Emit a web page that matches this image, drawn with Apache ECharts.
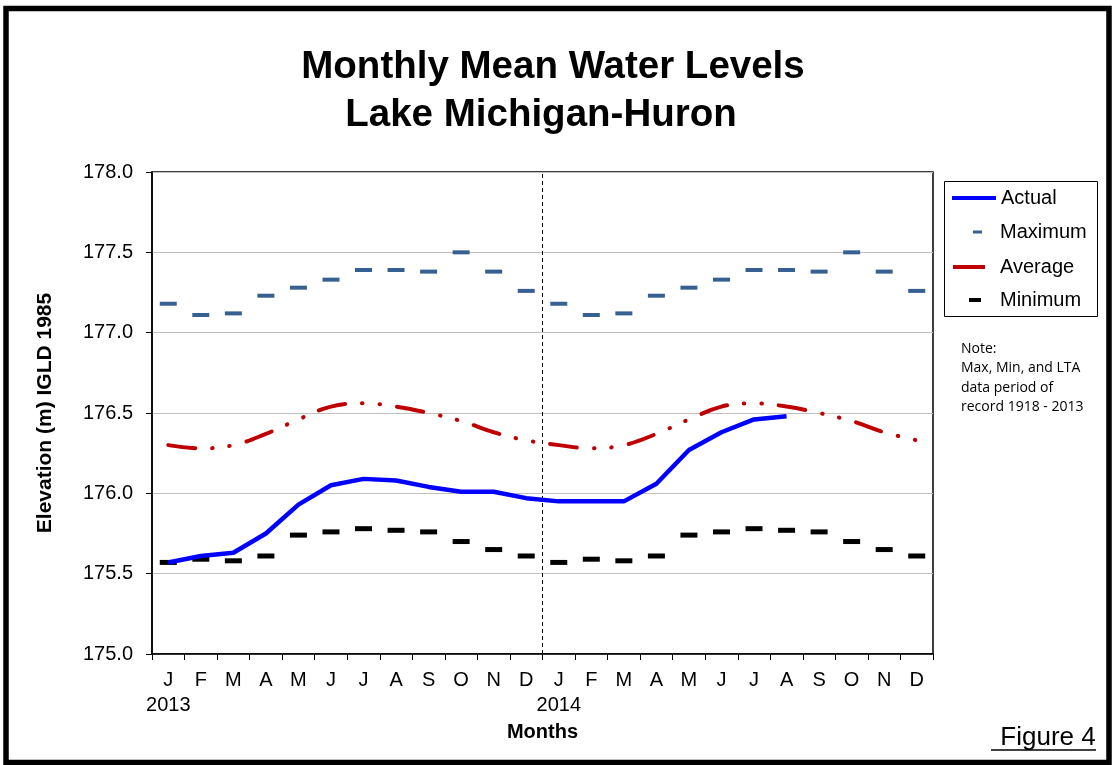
<!DOCTYPE html>
<html>
<head>
<meta charset="utf-8">
<script src="https://cdn.jsdelivr.net/npm/echarts@6/dist/echarts.min.js"></script>
<style>html,body{margin:0;padding:0;background:#fff;}#chart{width:1112px;height:765px;}</style>
</head>
<body>
<div id="chart"></div>
<script>
var months = ['J','F','M','A','M','J','J','A','S','O','N','D','J','F','M','A','M','J','J','A','S','O','N','D'];
var years = ['2013','','','','','','','','','','','','2014','','','','','','','','','','',''];
var yTicks = [175.0, 175.5, 176.0, 176.5, 177.0, 177.5, 178.0];
var yearBoundary = [12];
var actual = [175.57,175.61,175.63,175.75,175.93,176.05,176.09,176.08,176.04,176.01,176.01,175.97,
              175.95,175.95,175.95,176.06,176.27,176.38,176.46,176.48,null,null,null,null];
var maximum = [177.18,177.11,177.12,177.23,177.28,177.33,177.39,177.39,177.38,177.50,177.38,177.26,
               177.18,177.11,177.12,177.23,177.28,177.33,177.39,177.39,177.38,177.50,177.38,177.26];
var average = [176.30,176.28,176.30,176.37,176.46,176.54,176.56,176.54,176.50,176.45,176.38,176.33,
               176.30,176.28,176.30,176.37,176.46,176.54,176.56,176.54,176.50,176.45,176.38,176.33];
var minimum = [175.57,175.59,175.58,175.61,175.74,175.76,175.78,175.77,175.76,175.70,175.65,175.61,
               175.57,175.59,175.58,175.61,175.74,175.76,175.78,175.77,175.76,175.70,175.65,175.61];

var FONT = 'Liberation Sans, Arial, sans-serif';
var chart = echarts.init(document.getElementById('chart'), null, {renderer: 'canvas'});

function legendItem(name, top, left, w, h, padLeft) {
  return {
    data: [name], top: top, left: left, orient: 'horizontal',
    icon: 'rect', itemWidth: w, itemHeight: h, selectedMode: false,
    padding: 0,
    textStyle: {fontFamily: FONT, fontSize: 20, color: '#000', padding: [0, 0, 0, padLeft]}
  };
}

var option = {
  animation: false,
  backgroundColor: '#fff',
  title: [
    {text: 'Monthly Mean Water Levels', left: 548, top: 43, textAlign: 'center',
     textStyle: {fontFamily: FONT, fontSize: 38.5, fontWeight: 'bold', color: '#000'}},
    {text: 'Lake Michigan-Huron', left: 536, top: 91, textAlign: 'center',
     textStyle: {fontFamily: FONT, fontSize: 38.5, fontWeight: 'bold', color: '#000'}},
    {text: 'Note:\nMax, Min, and LTA\ndata period of\nrecord 1918 - 2013', left: 956, top: 334,
     textStyle: {fontFamily: 'Open Sans, sans-serif', fontSize: 14, fontWeight: 'normal', color: '#000', lineHeight: 19.5}},
    {text: 'Figure 4', left: 1043, top: 720, textAlign: 'center',
     textStyle: {fontFamily: FONT, fontSize: 26, fontWeight: 'normal', color: '#000'}}
  ],
  legend: [
    legendItem('Actual', 188, 952, 44, 4, 0),
    legendItem('Maximum', 222, 973, 9, 3, 13),
    legendItem('Average', 257, 953, 32, 4, 10),
    legendItem('Minimum', 290, 969, 12, 4, 14)
  ],
  grid: {left: 152, top: 172, width: 781, height: 482, show: true, borderColor: '#000', borderWidth: 1.5, backgroundColor: 'transparent'},
  xAxis: [{
    type: 'category', data: months, boundaryGap: true,
    name: 'Months', nameLocation: 'middle', nameGap: 68,
    nameTextStyle: {fontFamily: FONT, fontSize: 20, fontWeight: 'bold', color: '#000'},
    axisLine: {lineStyle: {color: '#000', width: 1.5}},
    axisTick: {show: true, inside: false, length: 6, lineStyle: {color: '#000', width: 1}},
    axisLabel: {
      fontFamily: FONT, fontSize: 20, color: '#000', margin: 14, lineHeight: 25, interval: 0,
      formatter: function (v, i) { return years[i] ? v + '\n' + years[i] : v; }
    },
    splitLine: {show: false}
  }, {
    type: 'value', min: 0, max: months.length, show: false, position: 'top'
  }],
  yAxis: {
    type: 'value', min: yTicks[0], max: yTicks[yTicks.length - 1], interval: 0.5,
    name: 'Elevation (m) IGLD 1985', nameLocation: 'middle', nameGap: 96, nameRotate: 90,
    nameTextStyle: {fontFamily: FONT, fontSize: 21, fontWeight: 'bold', color: '#000'},
    axisLine: {show: true, lineStyle: {color: '#000', width: 1.5}},
    axisTick: {show: true, inside: false, length: 6, lineStyle: {color: '#000'}},
    axisLabel: {fontFamily: FONT, fontSize: 20, color: '#000', margin: 19,
      formatter: function (v) { return v.toFixed(1); }},
    splitLine: {show: true, lineStyle: {color: '#c0c0c0', width: 1}}
  },
  series: [
    {name: 'Actual', type: 'line', data: actual, showSymbol: false, symbol: 'none',
     lineStyle: {color: '#0000ff', width: 4.5}, itemStyle: {color: '#0000ff'}, z: 5},
    {name: 'Maximum', type: 'scatter', data: maximum, symbol: 'rect', symbolSize: [17, 4],
     itemStyle: {color: '#376092', opacity: 1}, z: 3},
    {name: 'Average', type: 'line', data: average, smooth: 0.4, showSymbol: false, symbol: 'none',
     lineStyle: {color: '#c00000', width: 4, type: [27, 17, 0.5, 17, 0.5, 17], cap: 'round'},
     itemStyle: {color: '#c00000'}, z: 4},
    {name: 'Minimum', type: 'scatter', data: minimum, symbol: 'rect', symbolSize: [17, 5],
     itemStyle: {color: '#000', opacity: 1}, z: 3},
    {name: 'boundary', type: 'line', xAxisIndex: 1, data: [], silent: true,
     markLine: {symbol: 'none', silent: true, label: {show: false},
       lineStyle: {color: '#000', width: 1, type: [4, 3]},
       data: yearBoundary.map(function (b) { return {xAxis: b}; })}, z: 2}
  ],
  graphic: [
    {type: 'rect', shape: {x: 6, y: 8.5, width: 1103, height: 754}, style: {fill: null, stroke: '#000', lineWidth: 5.5}, silent: true},
    {type: 'rect', shape: {x: 944.5, y: 181.5, width: 153, height: 135}, style: {fill: null, stroke: '#000', lineWidth: 1}, silent: true},
    {type: 'line', shape: {x1: 991, y1: 750, x2: 1096, y2: 750}, style: {stroke: '#000', lineWidth: 1.5}, silent: true}
  ]
};
chart.setOption(option);
</script>
</body>
</html>
